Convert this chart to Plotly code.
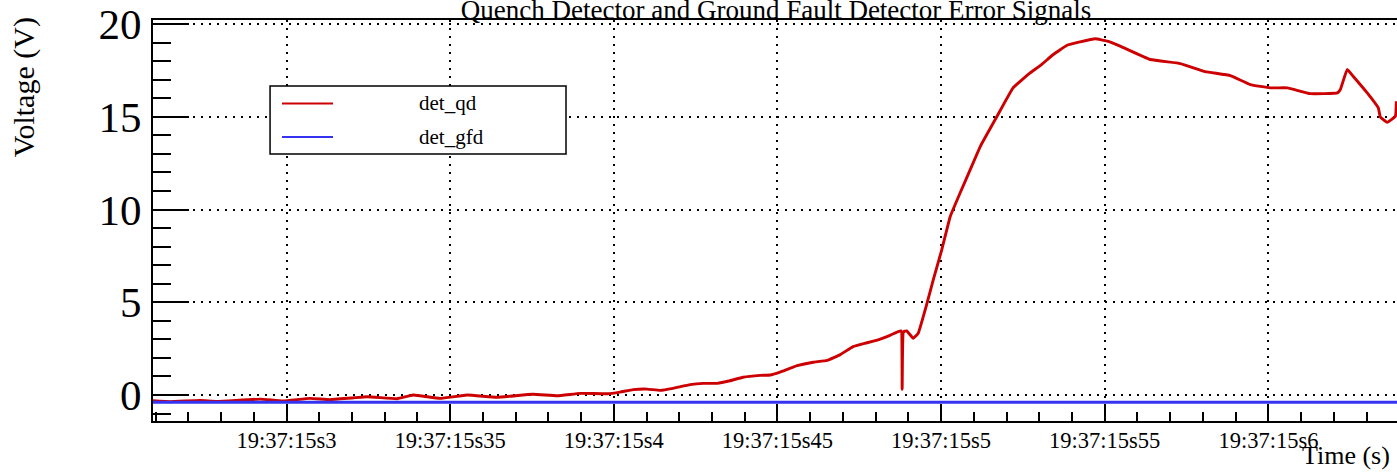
import plotly.graph_objects as go

# ---- data (time in seconds after 19:37:15, voltage in V) ----
qd_time = [0.2592, 0.2644, 0.2736, 0.2788, 0.2919, 0.2989, 0.3072, 0.3133, 0.3246, 0.3338,
           0.3387, 0.3469, 0.3552, 0.3643, 0.3753, 0.3827, 0.3897, 0.3980, 0.4019, 0.4059,
           0.4102, 0.4142, 0.4181, 0.4233, 0.4273, 0.4316, 0.4355, 0.4395, 0.4447, 0.4478,
           0.4508, 0.4560, 0.4609, 0.4652, 0.4692, 0.4731, 0.4774, 0.4814, 0.4844, 0.4869,
           0.4878, 0.4881, 0.4885, 0.4895, 0.4915, 0.4930, 0.4957, 0.4976, 0.5002, 0.5028,
           0.5058, 0.5089, 0.5120, 0.5171, 0.5220, 0.5272, 0.5303, 0.5343, 0.5385, 0.5425,
           0.5471, 0.5508, 0.5547, 0.5639, 0.5731, 0.5807, 0.5884, 0.5945, 0.6006, 0.6058,
           0.6128, 0.6211, 0.6220, 0.6241, 0.6259, 0.6302, 0.6336, 0.6342, 0.6363, 0.6388,
           0.6391]
qd_volt = [-0.31, -0.36, -0.29, -0.34, -0.22, -0.32, -0.18, -0.25, -0.09, -0.20,
           0.00, -0.18, 0.00, -0.12, 0.04, -0.04, 0.09, 0.07, 0.16, 0.29,
           0.32, 0.25, 0.36, 0.56, 0.63, 0.63, 0.77, 0.96, 1.06, 1.08,
           1.24, 1.58, 1.77, 1.87, 2.18, 2.61, 2.82, 3.02, 3.22, 3.42,
           3.46, 0.31, 3.40, 3.46, 3.06, 3.33, 4.95, 6.21, 7.83, 9.63,
           10.89, 12.15, 13.41, 15.03, 16.56, 17.37, 17.76, 18.36, 18.86, 19.04,
           19.21, 19.08, 18.81, 18.09, 17.87, 17.44, 17.22, 16.74, 16.56, 16.56,
           16.25, 16.29, 16.47, 17.55, 17.19, 16.29, 15.48, 14.99, 14.70, 15.03,
           15.84]

gfd_time = [0.2592, 0.6393]
gfd_volt = [-0.39, -0.39]

series_names = ["det_qd", "det_gfd"]
series_colors = ["#cc0000", "#3333f0"]

x_tick_vals = [0.30, 0.35, 0.40, 0.45, 0.50, 0.55, 0.60]
x_tick_labels = ["19:37:15s3", "19:37:15s35", "19:37:15s4", "19:37:15s45",
                 "19:37:15s5", "19:37:15s55", "19:37:15s6"]
y_tick_vals = [0, 5, 10, 15, 20]

title_text = "Quench Detector and Ground Fault Detector Error Signals"
x_title = "Time (s)"
y_title = "Voltage (V)"

FONT = "Liberation Serif, Times New Roman, serif"

fig = go.Figure()
fig.add_trace(go.Scatter(x=qd_time, y=qd_volt, mode="lines", name=series_names[0],
                         line=dict(color=series_colors[0], width=2.9, shape="spline", smoothing=0.3),
                         showlegend=False))
fig.add_trace(go.Scatter(x=gfd_time, y=gfd_volt, mode="lines", name=series_names[1],
                         line=dict(color=series_colors[1], width=2.8), showlegend=False))

grid_dash = "2px,6px"

fig.update_layout(
    width=1397, height=476,
    margin=dict(l=153, r=0, t=20, b=55, pad=0),
    paper_bgcolor="white", plot_bgcolor="white",
    font=dict(family=FONT, color="black"),
    title=dict(text=title_text, x=0.5555, xref="container", xanchor="center",
               y=0.981, yref="container", yanchor="middle",
               font=dict(family=FONT, size=27, color="black")),
    showlegend=False,
)

fig.update_xaxes(
    range=[0.2592, 0.6393], showline=True, linecolor="black", linewidth=2, mirror=True,
    tickmode="array", tickvals=x_tick_vals, ticktext=x_tick_labels,
    ticks="inside", ticklen=17, tickwidth=1.5, tickcolor="black",
    tickfont=dict(family=FONT, size=22.5, color="black"), ticklabelstandoff=-2,
    showgrid=True, gridcolor="black", gridwidth=2, griddash=grid_dash,
    minor=dict(tickmode="linear", tick0=0.3, dtick=0.01, ticks="inside", ticklen=9,
               tickwidth=1.5, tickcolor="black", showgrid=False),
    zeroline=False,
)
fig.update_yaxes(
    range=[-1.40, 20.22], showline=True, linecolor="black", linewidth=2, mirror=False,
    tickmode="array", tickvals=y_tick_vals,
    ticks="inside", ticklen=36, tickwidth=2, tickcolor="black",
    tickfont=dict(family=FONT, size=43, color="black"), ticklabelstandoff=1,
    showgrid=True, gridcolor="black", gridwidth=2, griddash=grid_dash,
    minor=dict(tickmode="linear", tick0=0, dtick=1, ticks="inside", ticklen=18,
               tickwidth=2, tickcolor="black", showgrid=False),
    zeroline=False,
)

# axis titles
fig.add_annotation(text=x_title, xref="paper", yref="paper", x=0.996, y=-0.085,
                   xanchor="right", yanchor="middle", showarrow=False,
                   font=dict(family=FONT, size=26, color="black"))
fig.add_annotation(text=y_title, xref="paper", yref="paper", x=-0.103, y=0.8317,
                   xanchor="center", yanchor="middle", textangle=-90, showarrow=False,
                   font=dict(family=FONT, size=30, color="black"))

# legend box (drawn like ROOT's TLegend)
lx0, lx1, ly0, ly1 = 0.0941, 0.3320, 0.6658, 0.8354
fig.add_shape(type="rect", xref="paper", yref="paper", x0=lx0, x1=lx1, y0=ly0, y1=ly1,
              line=dict(color="black", width=1.5), fillcolor="white", layer="above")
entry_y = [0.7918, 0.7082]
for name, color, ey in zip(series_names, series_colors, entry_y):
    fig.add_shape(type="line", xref="paper", yref="paper", x0=0.1037, x1=0.1447, y0=ey, y1=ey,
                  line=dict(color=color, width=2), layer="above")
    fig.add_annotation(text=name, xref="paper", yref="paper", x=0.2122, y=ey,
                       xanchor="left", yanchor="middle", showarrow=False,
                       font=dict(family=FONT, size=21, color="black"))

fig.write_html("out.html", config={"displayModeBar": False},
               post_script="document.body.style.margin='0px';document.body.style.overflow='hidden';")
